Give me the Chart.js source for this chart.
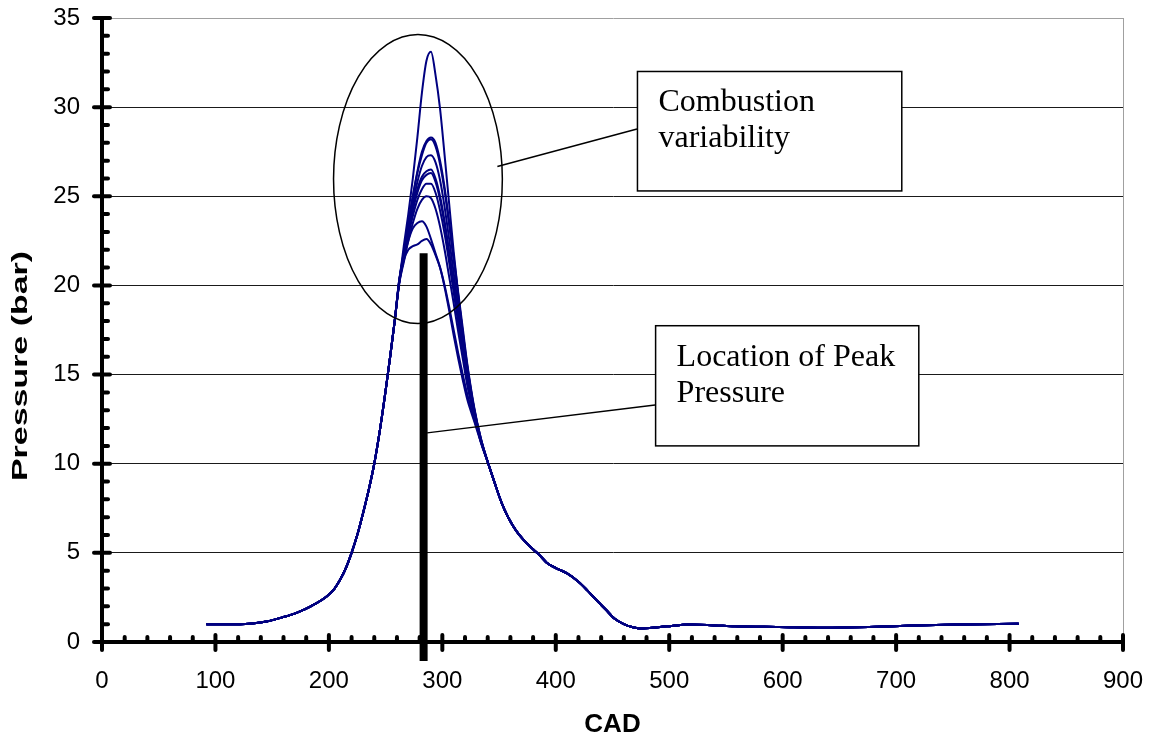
<!DOCTYPE html>
<html>
<head>
<meta charset="utf-8">
<script src="https://cdn.jsdelivr.net/npm/chart.js@4.4.0/dist/chart.umd.min.js"></script>
<style>
  body { margin: 0; background: #fff; }
  #chartData { display: block; }
</style>
</head>
<body>
<canvas id="chartData" width="1150" height="740"></canvas>
<script>
// compression stroke, same for every cycle
const riseX = [92, 110, 130, 145, 160, 172, 184, 198, 205, 210, 215, 220, 225, 230, 235, 240, 245, 250, 254, 258];
const riseY = [1.0, 1.0, 1.03, 1.15, 1.4, 1.65, 2.0, 2.55, 3.0, 3.5, 4.15, 5.0, 6.0, 7.2, 8.5, 10.0, 11.9, 14.1, 16.0, 18.0];

// combustion region, one row per cycle
const peakX = [262, 266, 270, 274, 278, 282, 286, 290, 294, 298, 302, 306, 310, 314, 318, 322, 328, 334];
const cycleA = [20.2, 22.2, 24.0, 26.0, 28.3, 30.8, 32.6, 33.1, 31.8, 29.9, 27.3, 24.6, 21.9, 19.5, 17.3, 15.4, 13.1, 11.4];
const cycleB = [20.2, 21.8, 23.4, 25.0, 26.4, 27.5, 28.1, 28.3, 28.0, 27.0, 25.5, 23.6, 21.6, 19.6, 17.6, 15.6, 13.2, 11.4];
const cycleC = [20.3, 21.9, 23.5, 25.0, 26.3, 27.3, 28.0, 28.2, 27.8, 26.8, 25.3, 23.4, 21.4, 19.4, 17.4, 15.5, 13.1, 11.4];
const cycleD = [20.2, 21.7, 23.2, 24.6, 25.8, 26.7, 27.2, 27.3, 26.9, 25.9, 24.4, 22.6, 20.7, 18.8, 16.9, 15.1, 13.0, 11.3];
const cycleE = [20.3, 21.7, 23.1, 24.4, 25.4, 26.1, 26.4, 26.5, 26.0, 25.0, 23.6, 21.9, 20.1, 18.3, 16.5, 14.8, 12.9, 11.3];
const cycleF = [20.1, 21.5, 22.9, 24.2, 25.2, 25.9, 26.2, 26.3, 25.8, 24.8, 23.4, 21.8, 20.0, 18.2, 16.4, 14.7, 12.8, 11.3];
const cycleG = [20.2, 21.5, 22.8, 23.9, 24.8, 25.4, 25.7, 25.7, 25.2, 24.2, 22.9, 21.3, 19.6, 17.9, 16.2, 14.6, 12.8, 11.2];
const cycleH = [20.1, 21.3, 22.5, 23.5, 24.3, 24.8, 25.0, 24.9, 24.3, 23.3, 22.0, 20.5, 19.0, 17.4, 15.9, 14.4, 12.7, 11.2];
const cycleI = [20.3, 21.5, 22.5, 23.2, 23.5, 23.6, 23.3, 22.6, 21.8, 21.0, 19.9, 18.6, 17.2, 15.9, 14.7, 13.6, 12.4, 11.2];
const cycleJ = [20.2, 21.4, 22.0, 22.2, 22.3, 22.5, 22.6, 22.3, 21.7, 21.0, 20.0, 18.8, 17.5, 16.2, 15.0, 13.9, 12.5, 11.3];
const cycles = [cycleA, cycleB, cycleC, cycleD, cycleE, cycleF, cycleG, cycleH, cycleI, cycleJ];

// expansion + exhaust, same for every cycle
const fallX = [340, 346, 352, 358, 365, 372, 380, 386, 392, 400, 410, 420, 428, 436, 444, 452, 460, 468, 476, 485, 498, 518, 540, 558, 597, 636, 676, 715, 755, 808];
const fallY = [10.1, 8.95, 7.85, 7.0, 6.25, 5.7, 5.2, 4.85, 4.45, 4.15, 3.85, 3.38, 2.88, 2.34, 1.82, 1.3, 1.0, 0.83, 0.76, 0.8, 0.88, 0.98, 0.93, 0.88, 0.84, 0.8, 0.84, 0.92, 0.98, 1.03];

// location of peak pressure marker
const peakLocX = [283.5, 283.5];
const peakLocY = [-1.07, 21.8];

const xTicks = [0, 100, 200, 300, 400, 500, 600, 700, 800, 900];
const yTicks = [0, 5, 10, 15, 20, 25, 30, 35];

const xTitle = 'CAD';
const yTitle = 'Pressure (bar)';

// callouts, in data units
const ellipseNote = { cx: 278.5, cy: 25.97, rx: 74.4, ry: 8.1 };
const boxes = [
  { lines: ['Combustion', 'variability'], x1: 472, x2: 705, y1: 32.0, y2: 25.3, from: [348.5, 26.67], to: [471.6, 28.77] },
  { lines: ['Location of Peak', 'Pressure'], x1: 488, x2: 720, y1: 17.74, y2: 11.0, from: [286.6, 11.73], to: [487.5, 13.29] }
];

const toPoints = (xs, ys) => xs.map((x, i) => ({ x: x, y: ys[i] }));

const datasets = [{
  data: toPoints(peakLocX, peakLocY),
  borderColor: '#000',
  borderWidth: 8,
  borderCapStyle: 'butt',
  pointRadius: 0,
  clip: false
}];

cycles.forEach(c => {
  datasets.push({
    data: toPoints(riseX, riseY).concat(toPoints(peakX, c), toPoints(fallX, fallY)),
    borderColor: '#000080',
    borderWidth: 2,
    pointRadius: 0,
    cubicInterpolationMode: 'monotone'
  });
});

const overlay = {
  id: 'overlay',
  afterDatasetsDraw(chart) {
    const { ctx, scales: { x, y } } = chart;
    ctx.save();
    ctx.strokeStyle = '#000';
    ctx.lineWidth = 1.5;

    const cx = x.getPixelForValue(ellipseNote.cx);
    const cy = y.getPixelForValue(ellipseNote.cy);
    const rx = x.getPixelForValue(ellipseNote.cx + ellipseNote.rx) - cx;
    const ry = cy - y.getPixelForValue(ellipseNote.cy + ellipseNote.ry);
    ctx.beginPath();
    ctx.ellipse(cx, cy, rx, ry, 0, 0, Math.PI * 2);
    ctx.stroke();

    boxes.forEach(b => {
      ctx.beginPath();
      ctx.moveTo(x.getPixelForValue(b.from[0]), y.getPixelForValue(b.from[1]));
      ctx.lineTo(x.getPixelForValue(b.to[0]), y.getPixelForValue(b.to[1]));
      ctx.stroke();

      const left = x.getPixelForValue(b.x1);
      const top = y.getPixelForValue(b.y1);
      const w = x.getPixelForValue(b.x2) - left;
      const h = y.getPixelForValue(b.y2) - top;
      ctx.fillStyle = '#fff';
      ctx.fillRect(left, top, w, h);
      ctx.strokeRect(left, top, w, h);

      ctx.fillStyle = '#000';
      ctx.font = '32px "Liberation Serif", "Times New Roman", serif';
      ctx.textAlign = 'left';
      ctx.textBaseline = 'alphabetic';
      b.lines.forEach((t, i) => ctx.fillText(t, left + 21, top + 40 + i * 36));
    });
    ctx.restore();
  },
  afterDraw(chart) {
    const { ctx, chartArea: area, scales: { x, y } } = chart;
    ctx.save();
    ctx.strokeStyle = '#000';
    ctx.lineWidth = 4;
    ctx.lineCap = 'round';
    for (let v = 0; v <= 900; v += 20) {
      const px = x.getPixelForValue(v);
      ctx.beginPath();
      if (v % 100 === 0) {
        ctx.moveTo(px, area.bottom - 7);
        ctx.lineTo(px, area.bottom + 8);
      } else {
        ctx.moveTo(px, area.bottom - 5);
        ctx.lineTo(px, area.bottom);
      }
      ctx.stroke();
    }
    for (let v = 0; v <= 35; v += 1) {
      const py = y.getPixelForValue(v);
      ctx.beginPath();
      if (v % 5 === 0) {
        ctx.moveTo(area.left - 8, py);
        ctx.lineTo(area.left + 8, py);
      } else {
        ctx.moveTo(area.left, py);
        ctx.lineTo(area.left + 6, py);
      }
      ctx.stroke();
    }

    // y title, stretched like the original
    ctx.translate(21, 366);
    ctx.rotate(-Math.PI / 2);
    ctx.font = 'bold 22px "Liberation Sans", Arial, sans-serif';
    const tw = ctx.measureText(yTitle).width;
    ctx.scale(230 / tw, 1);
    ctx.fillStyle = '#000';
    ctx.textAlign = 'center';
    ctx.textBaseline = 'middle';
    ctx.fillText(yTitle, 0, 0);
    ctx.restore();
  }
};

const ctx = document.getElementById('chartData').getContext('2d');
new Chart(ctx, {
  type: 'line',
  data: { datasets: datasets },
  plugins: [overlay],
  options: {
    responsive: false,
    animation: false,
    layout: { padding: { top: 18, right: 27, left: 0, bottom: 0 } },
    plugins: { legend: { display: false }, tooltip: { enabled: false } },
    scales: {
      x: {
        type: 'linear',
        min: 0,
        max: 900,
        afterFit: s => { s.height = 98; },
        afterBuildTicks: s => { s.ticks = xTicks.map(v => ({ value: v })); },
        border: { width: 4, color: '#000' },
        grid: {
          drawTicks: true,
          tickLength: 25,
          tickColor: 'rgba(0,0,0,0)',
          color: c => (c.tick && c.tick.value === 900) ? '#a0a0a0' : 'rgba(0,0,0,0)'
        },
        ticks: {
          padding: 0,
          color: '#000',
          maxRotation: 0,
          autoSkip: false,
          font: { family: '"Liberation Sans", Arial, sans-serif', size: 24 }
        },
        title: {
          display: true,
          text: xTitle,
          color: '#000',
          padding: { top: 0, bottom: 0 },
          font: { family: '"Liberation Sans", Arial, sans-serif', size: 26, weight: 'bold' }
        }
      },
      y: {
        min: 0,
        max: 35,
        afterFit: s => { s.width = 102; },
        afterBuildTicks: s => { s.ticks = yTicks.map(v => ({ value: v })); },
        border: { width: 4, color: '#000' },
        grid: {
          drawTicks: true,
          tickLength: 22,
          tickColor: 'rgba(0,0,0,0)',
          lineWidth: 1,
          color: c => (c.tick && c.tick.value === 35) ? '#a0a0a0' : '#1a1a1a'
        },
        ticks: {
          padding: 0,
          color: '#000',
          font: { family: '"Liberation Sans", Arial, sans-serif', size: 24 }
        }
      }
    }
  }
});
</script>
</body>
</html>
